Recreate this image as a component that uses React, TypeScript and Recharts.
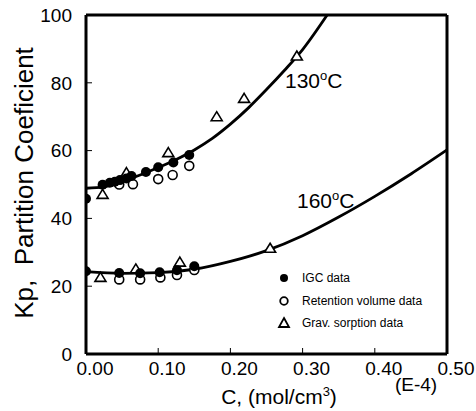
import { ComposedChart, Line, Scatter, XAxis, YAxis, ReferenceLine } from 'recharts'

// C (E-4 mol/cm3) and Kp values
const igc130C = [0, 0.023, 0.033, 0.04, 0.047, 0.056, 0.063, 0.083, 0.1, 0.121, 0.143]
const igc130Kp = [45.8, 49.9, 50.5, 50.8, 51.3, 51.8, 52.5, 53.7, 55.1, 56.5, 58.7]
const ret130C = [0.046, 0.065, 0.1, 0.12, 0.143]
const ret130Kp = [50.0, 50.1, 51.6, 52.8, 55.5]
const grav130C = [0.023, 0.056, 0.114, 0.181, 0.219, 0.292]
const grav130Kp = [47.1, 53.5, 59.4, 70.0, 75.4, 87.9]

const igc160C = [0, 0.046, 0.075, 0.102, 0.126, 0.15]
const igc160Kp = [24.4, 23.9, 23.8, 24.1, 24.7, 25.9]
const ret160C = [0.046, 0.075, 0.103, 0.126, 0.15]
const ret160Kp = [22.0, 22.0, 22.6, 23.3, 24.8]
const grav160C = [0.02, 0.069, 0.13, 0.255]
const grav160Kp = [22.6, 25.1, 27.1, 31.2]

// fitted curves
const fit130C = [0, 0.025, 0.05, 0.075, 0.1, 0.125, 0.15, 0.175, 0.2, 0.225, 0.25, 0.275, 0.3, 0.334]
const fit130Kp = [48.9, 49.3, 50.9, 52.8, 55.0, 57.4, 60.2, 63.6, 67.8, 72.6, 78.0, 83.7, 89.8, 100]
const fit160C = [0, 0.05, 0.1, 0.15, 0.2, 0.25, 0.3, 0.35, 0.4, 0.45, 0.5]
const fit160Kp = [24.3, 23.8, 24.0, 25.0, 27.3, 30.5, 34.9, 40.4, 46.5, 53.1, 60.2]

const xTicks = [0, 0.1, 0.2, 0.3, 0.4, 0.5]
const yTicks = [0, 20, 40, 60, 80, 100]

const zip = (xs: number[], ys: number[]) => xs.map((x, i) => ({ x, y: ys[i] }))

const FONT = '"Liberation Sans", Arial, Helvetica, sans-serif'

const Dot = (p: any) => <circle cx={p.cx} cy={p.cy} r={5} fill="#000" />
const Ring = (p: any) => <circle cx={p.cx} cy={p.cy} r={4.5} fill="#fff" stroke="#000" strokeWidth={1.6} />
const Tri = (p: any) => (
  <polygon
    points={`${p.cx},${p.cy - 5} ${p.cx + 5.5},${p.cy + 4} ${p.cx - 5.5},${p.cy + 4}`}
    fill="#fff" stroke="#000" strokeWidth={1.6}
  />
)

export default function App() {
  const tickStyle = { fill: '#000', fontSize: 19, fontFamily: FONT }
  return (
    <div style={{ position: 'relative', width: 476, height: 411, background: '#fff' }}>
      <style>{'body{margin:0}'}</style>
      <ComposedChart width={476} height={411} margin={{ top: 15, right: 29, bottom: 0, left: 0 }}>
        <XAxis
          type="number" dataKey="x" domain={[0, 0.5]} ticks={xTicks}
          tickFormatter={(v: number) => v.toFixed(2)}
          height={57} tickSize={-6} tickMargin={14}
          tick={{ ...tickStyle, dx: 9 }}
          axisLine={{ stroke: '#000', strokeWidth: 3 }} tickLine={{ stroke: '#000', strokeWidth: 1 }}
          allowDataOverflow
        />
        <YAxis
          type="number" domain={[0, 100]} ticks={yTicks} width={86}
          tickSize={-6} tickMargin={20} tick={tickStyle}
          axisLine={{ stroke: '#000', strokeWidth: 3 }} tickLine={{ stroke: '#000', strokeWidth: 1 }}
          allowDataOverflow
        />
        <ReferenceLine y={100} stroke="#000" strokeWidth={3} />
        <ReferenceLine x={0.5} stroke="#000" strokeWidth={3} />
        <Line data={zip(fit130C, fit130Kp)} dataKey="y" type="monotone" stroke="#000" strokeWidth={2.8} dot={false} isAnimationActive={false} />
        <Line data={zip(fit160C, fit160Kp)} dataKey="y" type="monotone" stroke="#000" strokeWidth={2.8} dot={false} isAnimationActive={false} />
        <Scatter data={zip(ret130C, ret130Kp)} dataKey="y" shape={Ring} isAnimationActive={false} />
        <Scatter data={zip(ret160C, ret160Kp)} dataKey="y" shape={Ring} isAnimationActive={false} />
        <Scatter data={zip(grav130C, grav130Kp)} dataKey="y" shape={Tri} isAnimationActive={false} />
        <Scatter data={zip(grav160C, grav160Kp)} dataKey="y" shape={Tri} isAnimationActive={false} />
        <Scatter data={zip(igc130C, igc130Kp)} dataKey="y" shape={Dot} isAnimationActive={false} />
        <Scatter data={zip(igc160C, igc160Kp)} dataKey="y" shape={Dot} isAnimationActive={false} />
      </ComposedChart>
      <svg width={476} height={411} style={{ position: 'absolute', left: 0, top: 0, pointerEvents: 'none' }} fontFamily={FONT}>
        <text x={33} y={183} transform="rotate(-90 33 183)" textAnchor="middle" fontSize={26} style={{ whiteSpace: 'pre' }}>
          Kp,  Partition Coeficient
        </text>
        <text x={279} y={404} textAnchor="middle" fontSize={21}>
          C, (mol/cm<tspan dy={-8} fontSize={13}>3</tspan><tspan dy={8}>)</tspan>
        </text>
        <text x={416} y={391} textAnchor="middle" fontSize={19}>(E-4)</text>
        <text x={285} y={88} fontSize={21}>
          130<tspan dy={-8} fontSize={13}>o</tspan><tspan dy={8}>C</tspan>
        </text>
        <text x={297} y={208} fontSize={21}>
          160<tspan dy={-8} fontSize={13}>o</tspan><tspan dy={8}>C</tspan>
        </text>
        <circle cx={284} cy={278} r={4} fill="#000" />
        <text x={302} y={282} fontSize={12}>IGC data</text>
        <circle cx={284} cy={301} r={3.8} fill="#fff" stroke="#000" strokeWidth={1.8} />
        <text x={302} y={305} fontSize={12}>Retention volume data</text>
        <polygon points="284,318 289,327 279,327" fill="#fff" stroke="#000" strokeWidth={1.8} />
        <text x={302} y={327} fontSize={12}>Grav. sorption data</text>
      </svg>
    </div>
  )
}
